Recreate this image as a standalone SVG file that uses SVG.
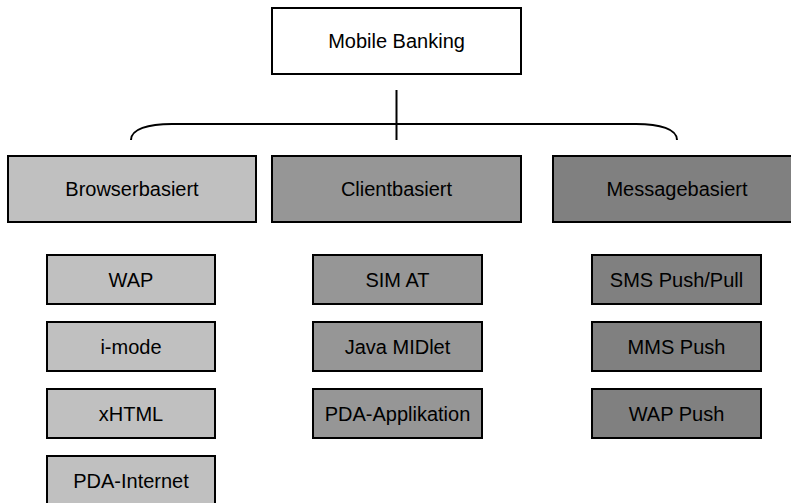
<svg xmlns="http://www.w3.org/2000/svg" width="791" height="503" viewBox="0 0 791 503">
<style>
rect{stroke:#000;stroke-width:2}
.w{fill:#fff}.b{fill:#c0c0c0}.c{fill:#969696}.m{fill:#808080}
text{font-family:"Liberation Sans",Arial,sans-serif;font-size:20px;fill:#000;text-anchor:middle}
.conn{fill:none;stroke:#000;stroke-width:2}
</style>
<g id="connectors">
<line class="conn" x1="396.5" y1="90" x2="396.5" y2="140"/>
<path class="conn" d="M131,140 C131,129 148,124 172,124 L636,124 C660,124 677,129 677,140"/>
</g>
<g id="mobile-banking"><rect class="w" x="272" y="8" width="249" height="66"/><text x="396.5" y="48">Mobile Banking</text></g>
<g id="browserbasiert"><rect class="b" x="8" y="156" width="248" height="66"/><text x="132" y="196">Browserbasiert</text></g>
<g id="clientbasiert"><rect class="c" x="272" y="156" width="249" height="66"/><text x="396.5" y="196">Clientbasiert</text></g>
<g id="messagebasiert"><rect class="m" x="553" y="156" width="249" height="66"/><text x="677" y="196">Messagebasiert</text></g>
<g id="wap"><rect class="b" x="47" y="255" width="168" height="49"/><text x="131" y="287">WAP</text></g>
<g id="i-mode"><rect class="b" x="47" y="322" width="168" height="49"/><text x="131" y="354">i-mode</text></g>
<g id="xhtml"><rect class="b" x="47" y="389" width="168" height="49"/><text x="131" y="421">xHTML</text></g>
<g id="pda-internet"><rect class="b" x="47" y="456" width="168" height="49"/><text x="131" y="488">PDA-Internet</text></g>
<g id="sim-at"><rect class="c" x="313" y="255" width="169" height="49"/><text x="397.5" y="287">SIM AT</text></g>
<g id="java-midlet"><rect class="c" x="313" y="322" width="169" height="49"/><text x="397.5" y="354">Java MIDlet</text></g>
<g id="pda-applikation"><rect class="c" x="313" y="389" width="169" height="49"/><text x="397.5" y="421">PDA-Applikation</text></g>
<g id="sms"><rect class="m" x="592" y="255" width="169" height="49"/><text x="676.5" y="287">SMS Push/Pull</text></g>
<g id="mms"><rect class="m" x="592" y="322" width="169" height="49"/><text x="676.5" y="354">MMS Push</text></g>
<g id="wap-push"><rect class="m" x="592" y="389" width="169" height="49"/><text x="676.5" y="421">WAP Push</text></g>
</svg>
